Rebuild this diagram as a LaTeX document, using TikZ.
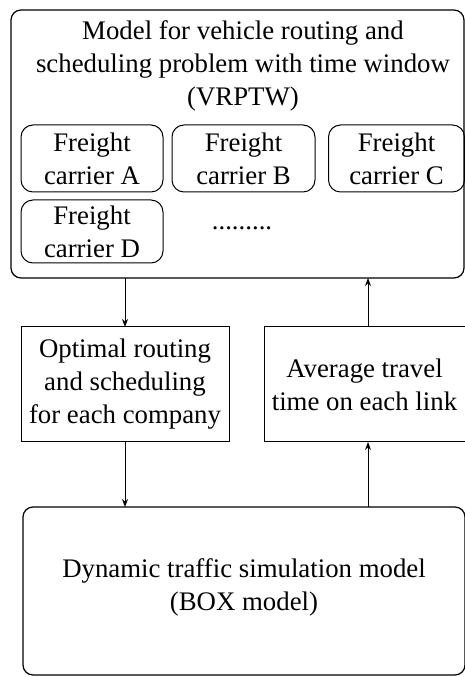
\documentclass[tikz,border=0pt]{standalone}
\usepackage{fontspec}
\setmainfont{Liberation Serif}
\usetikzlibrary{arrows.meta,calc}
\begin{document}
\begin{tikzpicture}[x=1pt,y=1pt,
  every node/.style={inner sep=0pt,outer sep=0pt},
  txt/.style={font=\fontsize{26.8}{33}\selectfont,align=center},
  rbox/.style={draw,line width=1.2pt,rounded corners=10pt},
  cbox/.style={draw,line width=1pt,rounded corners=12pt},
  sbox/.style={draw,line width=1pt},
  arr/.style={line width=0.9pt,-{Stealth[length=8pt,width=6pt]}}]
\useasboundingbox (0,0) rectangle (465,677);
% top box
\node[rbox,minimum width=453,minimum height=268] (top) at (237.5,533) {};
\node[txt] (title) at (243,611) {Model for vehicle routing and\\scheduling problem with time window\\(VRPTW)};
\node[cbox,minimum width=142,minimum height=67,txt] (fa) at (92,518.5) {Freight\\carrier A};
\node[cbox,minimum width=143,minimum height=67,txt] (fb) at (243.5,518.5) {Freight\\carrier B};
\node[cbox,minimum width=136,minimum height=67,txt] (fc) at (396.5,518.5) {Freight\\carrier C};
\node[cbox,minimum width=142,minimum height=63,txt] (fd) at (92,445.5) {Freight\\carrier D};
\node[txt] (dots) at (242,449) {.........};
% middle boxes
\node[sbox,minimum width=208,minimum height=115,txt] (lm) at (125,292.5) {Optimal routing\\and scheduling\\for each company};
\node[sbox,minimum width=201,minimum height=115,txt] (rm) at (364.5,292.5) {Average travel\\time on each link};
% bottom box
\node[rbox,minimum width=442,minimum height=168] (bot) at (244,86) {};
\node[txt] (bt) at (244,90) {Dynamic traffic simulation model\\(BOX model)};
% arrows
\draw[arr] (lm.north |- top.south) -- (lm.north);
\draw[arr] (lm.south) -- (lm.south |- bot.north);
\coordinate (rx) at (368,0);
\draw[arr] (rx |- bot.north) -- (rx |- rm.south);
\draw[arr] (rx |- rm.north) -- (rx |- top.south);
\end{tikzpicture}
\end{document}
